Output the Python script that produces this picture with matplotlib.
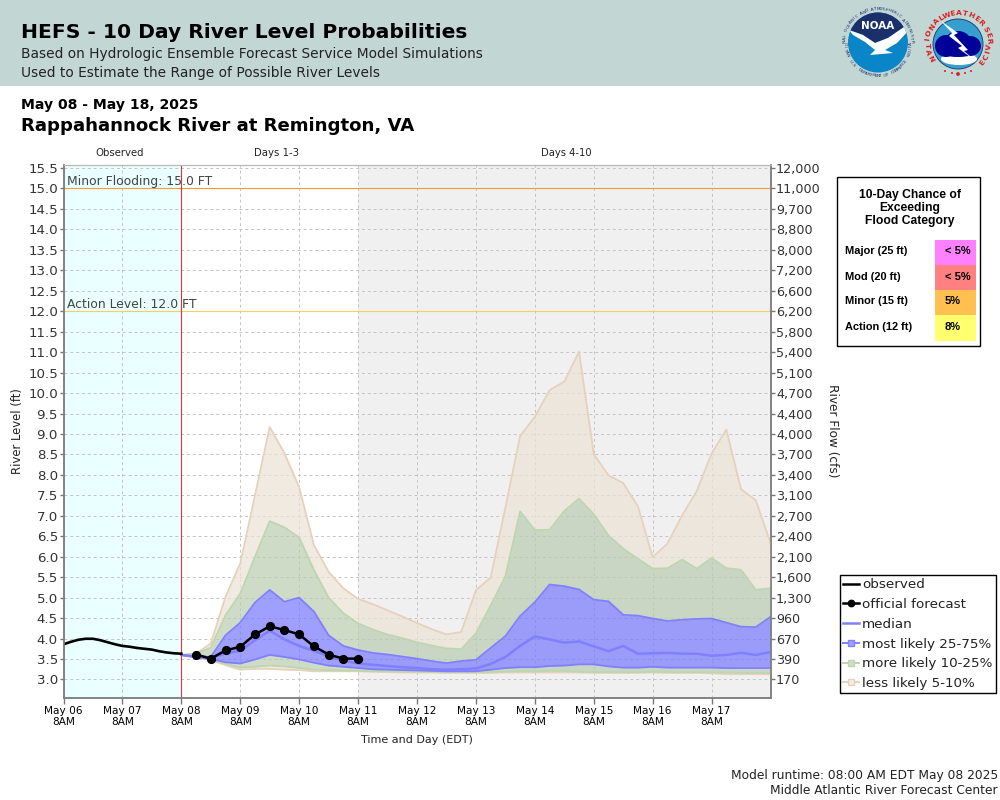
import numpy as np
import matplotlib
matplotlib.use("Agg")
import matplotlib.pyplot as plt
from matplotlib.lines import Line2D
from matplotlib.patches import Circle, Ellipse, Polygon, Rectangle

# hours since May 06 8AM
obs_hours = [0, 3, 6, 9, 12, 15, 18, 21, 24, 27, 30, 33, 36, 39, 42, 45, 48]
observed = [3.86, 3.92, 3.97, 3.995, 3.995, 3.96, 3.91, 3.86, 3.82, 3.80, 3.77,
            3.75, 3.73, 3.69, 3.66, 3.64, 3.63]

# ensemble traces, every 6 hours from May 08 8AM
fc_hours = list(range(48, 289, 6))
tan_top = [3.60, 3.63, 3.88, 5.02, 5.84, 7.50, 9.17, 8.53, 7.70, 6.29, 5.63, 5.23, 4.97,
           4.84, 4.69, 4.54, 4.38, 4.23, 4.10, 4.16, 5.18, 5.49, 7.20, 8.95, 9.42, 10.07, 10.28,
           11.01, 8.51, 7.99, 7.80, 7.23, 5.99, 6.32, 7.01, 7.61, 8.52, 9.11, 7.65, 7.38, 6.34]
green_top = [3.60, 3.63, 3.78, 4.57, 5.10, 6.00, 6.87, 6.72, 6.47, 5.68, 5.00, 4.62, 4.37,
             4.22, 4.10, 4.01, 3.91, 3.83, 3.76, 3.74, 4.13, 4.81, 5.52, 7.11, 6.65, 6.66, 7.12,
             7.42, 7.04, 6.52, 6.20, 5.95, 5.71, 5.72, 5.93, 5.71, 5.97, 5.72, 5.68, 5.19, 5.23]
blue_top = [3.60, 3.57, 3.55, 4.08, 4.39, 4.88, 5.19, 4.90, 5.00, 4.66, 4.08, 3.82, 3.72,
            3.65, 3.61, 3.56, 3.51, 3.45, 3.40, 3.45, 3.48, 3.77, 4.06, 4.55, 4.89, 5.32, 5.28,
            5.20, 4.95, 4.91, 4.58, 4.56, 4.49, 4.43, 4.46, 4.48, 4.49, 4.39, 4.29, 4.28, 4.53]
median = [3.60, 3.55, 3.51, 3.64, 3.70, 3.96, 4.19, 3.98, 3.82, 3.70, 3.57, 3.46, 3.39,
          3.36, 3.33, 3.30, 3.28, 3.25, 3.24, 3.25, 3.27, 3.38, 3.55, 3.82, 4.05, 3.98, 3.90,
          3.93, 3.81, 3.69, 3.82, 3.63, 3.64, 3.65, 3.63, 3.63, 3.58, 3.60, 3.65, 3.60, 3.67]
blue_bot = [3.60, 3.55, 3.50, 3.42, 3.39, 3.49, 3.60, 3.55, 3.49, 3.41, 3.34, 3.31, 3.28,
            3.25, 3.24, 3.23, 3.22, 3.21, 3.20, 3.20, 3.20, 3.24, 3.28, 3.30, 3.30, 3.33, 3.34,
            3.37, 3.37, 3.32, 3.29, 3.29, 3.31, 3.29, 3.29, 3.29, 3.29, 3.28, 3.28, 3.28, 3.28]
green_bot = [3.60, 3.55, 3.48, 3.38, 3.29, 3.31, 3.34, 3.32, 3.28, 3.24, 3.23, 3.22, 3.21,
             3.20, 3.20, 3.19, 3.19, 3.18, 3.18, 3.18, 3.18, 3.18, 3.19, 3.20, 3.20, 3.21, 3.21,
             3.19, 3.18, 3.18, 3.18, 3.18, 3.19, 3.18, 3.18, 3.18, 3.17, 3.17, 3.16, 3.16, 3.16]
tan_bot = [3.60, 3.55, 3.47, 3.35, 3.24, 3.26, 3.26, 3.24, 3.23, 3.20, 3.20, 3.20, 3.20,
           3.19, 3.18, 3.17, 3.17, 3.17, 3.16, 3.16, 3.16, 3.16, 3.17, 3.17, 3.17, 3.17, 3.17,
           3.17, 3.16, 3.16, 3.16, 3.16, 3.17, 3.16, 3.16, 3.16, 3.15, 3.13, 3.13, 3.13, 3.13]

official_hours = list(range(54, 121, 6))
official = [3.61, 3.51, 3.71, 3.80, 4.10, 4.30, 4.21, 4.10, 3.81, 3.61, 3.51, 3.51]

day_labels = ["May 06", "May 07", "May 08", "May 09", "May 10", "May 11",
              "May 12", "May 13", "May 14", "May 15", "May 16", "May 17"]
level_ticks = [3.0 + 0.5 * i for i in range(26)]
flow_labels = ["170", "390", "670", "960", "1,300", "1,600", "2,100", "2,400", "2,700",
               "3,100", "3,400", "3,700", "4,000", "4,400", "4,700", "5,100", "5,400",
               "5,800", "6,200", "6,600", "7,200", "8,000", "8,800", "9,700", "11,000", "12,000"]

categories = ["Major (25 ft)", "Mod (20 ft)", "Minor (15 ft)", "Action (12 ft)"]
chances = ["< 5%", "< 5%", "5%", "8%"]
chance_colors = ["#FF80FF", "#FF8080", "#FFC050", "#FFFF70"]

TAN, TAN_EDGE = "#ECE2D4", "#E6D2BC"
GREEN, GREEN_EDGE = "#B9CCB0", "#BDD6B0"
BLUE, BLUE_EDGE = "#7777FF", "#8080FF"
TEXT = "#333333"


def band(ax, x, low, high, color):
    ax.fill_between(x, low, high, color=color, alpha=0.7, lw=0, zorder=3)


def circle_text(ax, text, cx, cy, r, start, end, **kw):
    # letters around a circle, clockwise; angles in degrees from north
    for ang, ch in zip(np.linspace(start, end, len(text)), text):
        a = np.radians(ang)
        rot = -ang if -90 < ang < 90 else 180 - ang
        ax.text(cx + r * np.sin(a), cy - r * np.cos(a), ch, rotation=rot,
                ha="center", va="center", **kw)


def draw_logos(px):
    # NOAA
    cx, cy = 878, 42.5
    disc = Circle((cx, cy), 30, fc="#0A85C8", ec="none", zorder=2)
    px.add_patch(disc)
    navy = Polygon([(849, 30), (863, 35), (875, 43), (888, 38), (907, 25), (907, 0), (849, 0)],
                   fc="#1B2F6B", ec="none", zorder=3)
    px.add_patch(navy)
    navy.set_clip_path(disc)
    wing = Polygon([(849, 30), (863, 35), (875, 43), (888, 38), (907, 25), (910, 29), (897, 43),
                    (885, 50), (893, 53), (870, 55), (875, 50), (865, 42), (853, 35)],
                   fc="white", ec="none", zorder=4)
    px.add_patch(wing)
    wing.set_clip_path(disc)
    px.text(878, 26, "NOAA", color="white", fontsize=7.5, fontweight="bold",
            ha="center", va="center", zorder=5)
    circle_text(px, "NATIONAL OCEANIC AND ATMOSPHERIC ADMINISTRATION", cx, cy, 33.5, -112, 112,
                fontsize=3.1, color="#1B2F6B", zorder=5)
    circle_text(px, "U.S. DEPARTMENT OF COMMERCE"[::-1], cx, cy, 33.5, 125, 235,
                fontsize=3.1, color="#1B2F6B", zorder=5)

    # NWS
    cx, cy = 958, 44
    px.add_patch(Circle((cx, cy), 25, fc="#35A0D0", ec="#1B2F6B", lw=0.6, zorder=2))
    px.add_patch(Ellipse((cx + 1, cy + 15), 36, 12, fc="white", ec="none", zorder=3))
    for ox, oy, w, h in [(-12, 2, 22, 22), (0, -2, 26, 22), (12, 2, 22, 20), (0, 6, 42, 14)]:
        px.add_patch(Ellipse((cx + ox, cy + oy), w, h, fc="#000099", ec="none", zorder=4))
    px.add_patch(Polygon([(941, 21), (958, 33), (954, 35), (968, 50), (964, 51), (977, 62),
                          (958, 48), (962, 46), (949, 36), (952, 33)],
                         fc="white", ec="none", zorder=5))
    circle_text(px, "NATIONAL", cx, cy, 31, -118, -32, fontsize=5.4, fontweight="bold",
                color="#D92020", zorder=6)
    circle_text(px, "WEATHER", cx, cy, 31, -22, 47, fontsize=5.4, fontweight="bold",
                color="#D92020", zorder=6)
    circle_text(px, "SERVICE", cx, cy, 31, 62, 128, fontsize=5.4, fontweight="bold",
                color="#D92020", zorder=6)
    for dx, dy, s in [(-13, 27, 1.0), (-6, 29, 1.0), (0, 30, 1.9), (7, 29, 1.0), (13, 27, 1.0)]:
        px.add_patch(Circle((cx + dx, cy + dy), s, fc="#D92020", ec="none", zorder=6))


def main():
    fig = plt.figure(figsize=(10, 8), dpi=100, facecolor="white")

    # overlay in image pixels for the header, footer and table
    px = fig.add_axes([0, 0, 1, 1], zorder=5)
    px.set_xlim(0, 1000)
    px.set_ylim(800, 0)
    px.axis("off")
    px.patch.set_alpha(0)

    left, right, top, bottom = 63.5, 770.5, 165.0, 697.5
    ax = fig.add_axes([left / 1000, 1 - bottom / 800, (right - left) / 1000, (bottom - top) / 800])
    ax.set_xlim(0, 288)
    ax.set_ylim(3.0 - 18.0 / 40.88, 15.5 + 3.0 / 40.88)
    ax.set_axisbelow(True)

    ax.axvspan(0, 48, color="#EAFFFF", lw=0, zorder=0)
    ax.axvspan(120, 288, color="#F0F0F0", lw=0, zorder=0)
    ax.grid(True, color="#C4C4C4", ls=(0, (3, 3)), lw=0.7, zorder=1)

    x = np.array(fc_hours)
    band(ax, x, green_top, tan_top, TAN)
    band(ax, x, tan_bot, green_bot, TAN)
    band(ax, x, blue_top, green_top, GREEN)
    band(ax, x, green_bot, blue_bot, GREEN)
    band(ax, x, blue_bot, blue_top, BLUE)
    for y, c in [(tan_top, TAN_EDGE), (tan_bot, TAN_EDGE), (green_top, GREEN_EDGE),
                 (green_bot, GREEN_EDGE), (blue_top, BLUE_EDGE), (blue_bot, BLUE_EDGE)]:
        ax.plot(x, y, color=c, lw=1.3, zorder=4)
    ax.plot(x, median, color=BLUE_EDGE, lw=1.8, zorder=5)

    ax.axhline(15.0, color="#FF9A30", lw=0.8, zorder=2)
    ax.axhline(12.0, color="#F5D060", lw=0.8, zorder=2)
    ax.axvline(48, color="#DD3333", lw=0.8, zorder=6)
    ax.plot(obs_hours, observed, color="black", lw=1.9, zorder=7)
    ax.plot(official_hours, official, color="black", lw=1.8, marker="o", ms=5.6, zorder=8)

    ax.text(1.5, 15.08, "Minor Flooding: 15.0 FT", fontsize=8.9, color="#444444", zorder=9)
    ax.text(1.5, 12.08, "Action Level: 12.0 FT", fontsize=8.9, color="#444444", zorder=9)

    ax.set_xticks(np.arange(0, 288, 24))
    ax.set_xticklabels([f"{d}\n8AM" for d in day_labels], fontsize=7.6, color="black")
    ax.set_yticks(level_ticks)
    ax.set_yticklabels([f"{v:.1f}" for v in level_ticks], fontsize=9.6, color=TEXT)
    ax.tick_params(axis="x", length=4, color="#777777", pad=2, width=1)
    ax.tick_params(axis="y", length=3, color="#777777", pad=1, width=1)

    ax2 = ax.twinx()
    ax2.set_ylim(ax.get_ylim())
    ax2.set_yticks(level_ticks)
    ax2.set_yticklabels(flow_labels, fontsize=9.2, color=TEXT)
    ax2.tick_params(axis="y", length=3, color="#777777", pad=1, width=1)

    for a in (ax, ax2):
        a.spines["top"].set_color("#B8B8B8")
        for side in ("left", "bottom", "right"):
            a.spines[side].set_color("#808080")
            a.spines[side].set_linewidth(1.1)

    # header
    px.add_patch(Rectangle((0, 0), 1000, 85.5, fc="#C2D6D3", ec="none", zorder=0))
    px.text(21, 33, "HEFS - 10 Day River Level Probabilities", fontsize=14.6, fontweight="bold",
            va="center", color="black")
    px.text(21, 54, "Based on Hydrologic Ensemble Forecast Service Model Simulations",
            fontsize=9.92, va="center", color="#222222")
    px.text(21, 73, "Used to Estimate the Range of Possible River Levels", fontsize=9.92,
            va="center", color="#222222")
    draw_logos(px)

    px.text(21, 105, "May 08 - May 18, 2025", fontsize=10.05, fontweight="bold", va="center", color="black")
    px.text(21, 126, "Rappahannock River at Remington, VA", fontsize=13.1, fontweight="bold",
            va="center", color="black")

    px.text(120, 153.5, "Observed", fontsize=7.3, ha="center", va="center", color="#222222")
    px.text(276, 153.5, "Days 1-3", fontsize=7.3, ha="center", va="center", color="#222222")
    px.text(566, 153.5, "Days 4-10", fontsize=7.2, ha="center", va="center", color="#222222")

    px.text(18, 431, "River Level (ft)", fontsize=8.4, rotation=90, ha="center", va="center", color="#222222")
    px.text(832, 431, "River Flow (cfs)", fontsize=8.7, rotation=270, ha="center", va="center", color="#222222")
    px.text(417, 740, "Time and Day (EDT)", fontsize=8, ha="center", va="center", color="#222222")

    px.text(998, 775, "Model runtime: 08:00 AM EDT May 08 2025", fontsize=8.8, ha="right", va="center", color="#222222")
    px.text(998, 791, "Middle Atlantic River Forecast Center", fontsize=8.8, ha="right", va="center", color="#222222")

    # chance table
    lib = ["Liberation Sans"]
    px.add_patch(Rectangle((836.5, 176.5), 143.5, 169, fc="white", ec="black", lw=1.0, zorder=1))
    for i, t in enumerate(["10-Day Chance of", "Exceeding", "Flood Category"]):
        px.text(910, 195 + 13 * i, t, family=lib, fontsize=8.7, fontweight="bold", ha="center", va="center")
    for i, (cat, ch, c) in enumerate(zip(categories, chances, chance_colors)):
        y0 = 240 + 25 * i
        px.add_patch(Rectangle((935, y0), 41, 25 if i < 3 else 26, fc=c, ec="none", zorder=2))
        px.text(845, y0 + 11.5, cat, family=lib, fontsize=7.9, fontweight="bold", va="center")
        px.text(945, y0 + 11.5, ch, family=lib, fontsize=8, fontweight="bold", va="center", zorder=3)

    handles = [
        Line2D([], [], color="black", lw=1.8),
        Line2D([], [], color="black", lw=1.8, marker="o", ms=4.6),
        Line2D([], [], color=BLUE_EDGE, lw=1.8),
        Line2D([], [], color=BLUE_EDGE, lw=1.4, marker="s", ms=5, mfc="#A0A0FF", mec=BLUE_EDGE),
        Line2D([], [], color=GREEN_EDGE, lw=1.4, marker="s", ms=5, mfc="#CEDBC8", mec=GREEN_EDGE),
        Line2D([], [], color=TAN_EDGE, lw=1.4, marker="s", ms=5, mfc="#F4ECE2", mec=TAN_EDGE),
    ]
    labels = ["observed", "official forecast", "median", "most likely 25-75%",
              "more likely 10-25%", "less likely 5-10%"]
    leg = px.legend(handles, labels, loc="upper left", bbox_to_anchor=(0.8395, 1 - 575 / 800),
                    bbox_transform=fig.transFigure, borderaxespad=0, fontsize=9.7,
                    frameon=True, fancybox=False, edgecolor="black", framealpha=1,
                    handlelength=1.2, handletextpad=0.22, labelspacing=0.5,
                    borderpad=0.25, labelcolor="#222222")
    leg.get_frame().set_linewidth(1.0)

    fig.savefig("out.png", dpi=100)


if __name__ == "__main__":
    main()
